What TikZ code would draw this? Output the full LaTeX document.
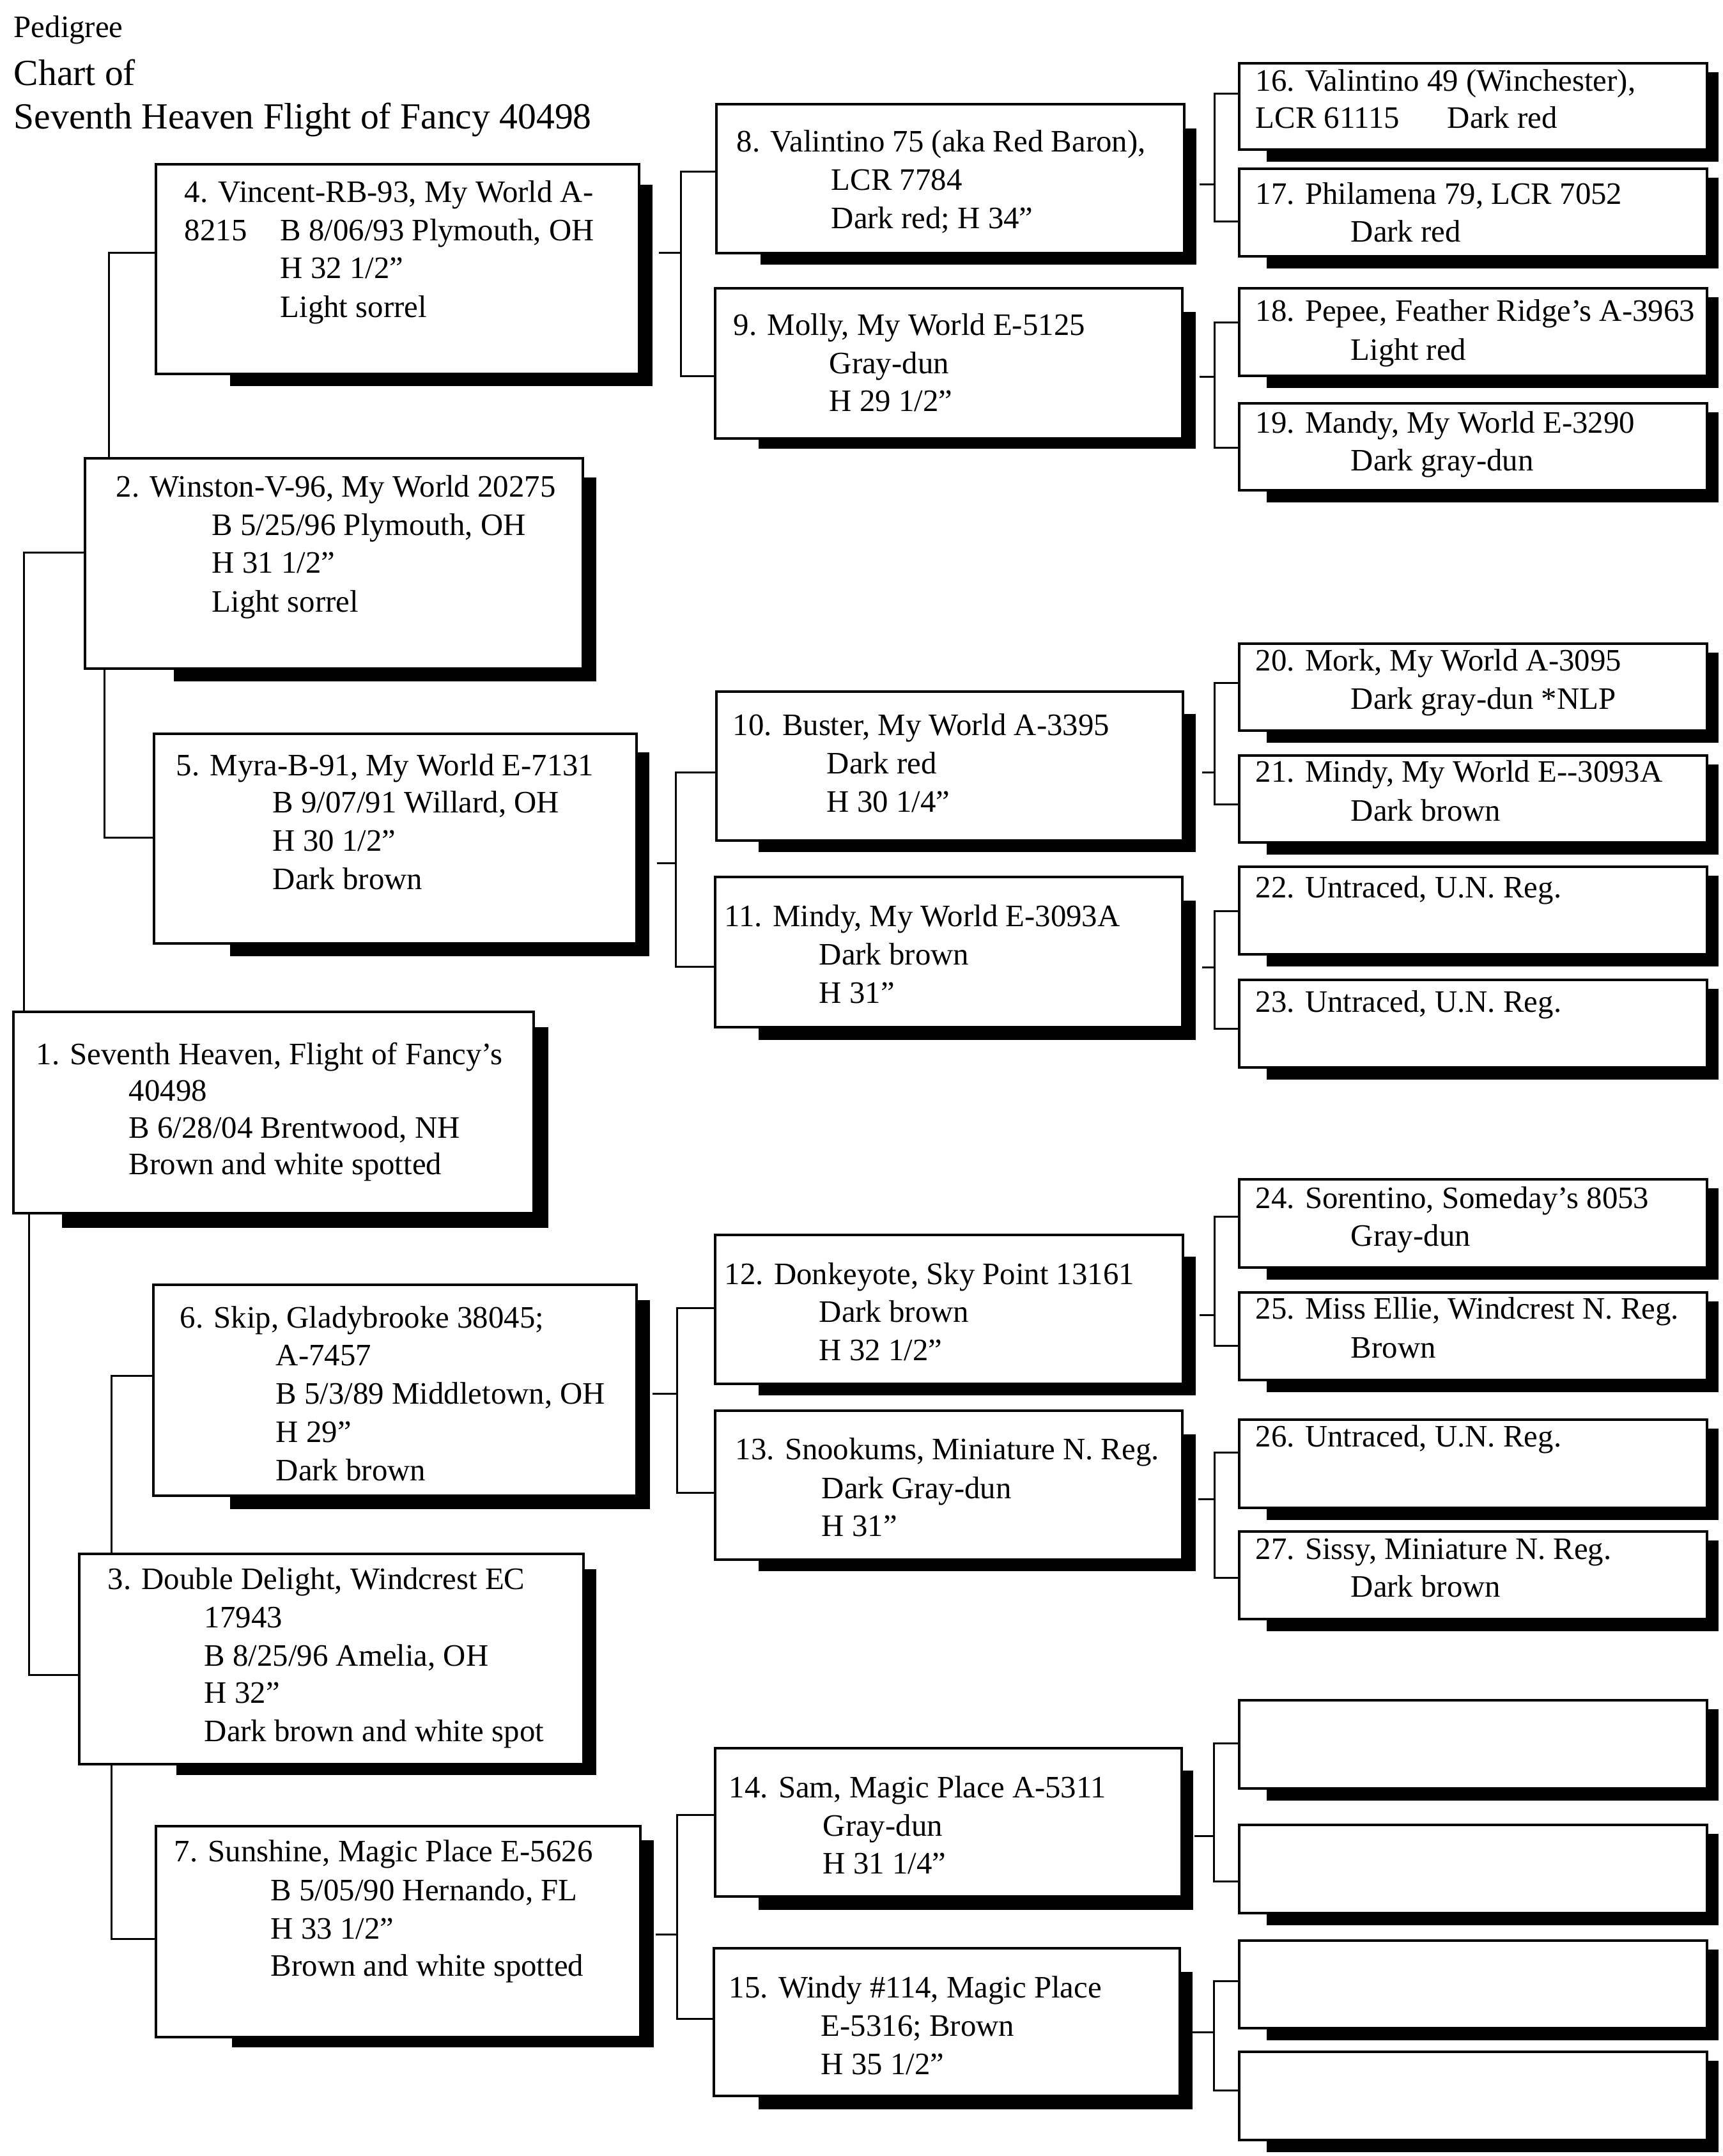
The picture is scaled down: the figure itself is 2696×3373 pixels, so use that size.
\documentclass[tikz,border=0pt]{standalone}
\usepackage{fontspec}
\setmainfont{Liberation Serif}
\newcommand\pedbox[9]{%
  \fill[black] (#6,#7) rectangle (#8,#9);
  \node[pbox, minimum width={(#4-#2)*0.25pt}, minimum height={(#5-#3)*0.25pt}] (#1) at ({(#2+#4)/2},{(#3+#5)/2}) {};
}
\newcommand\cbox[3]{\pedbox{#1}{1939}{#2}{2671}{#3}{1982}{#2+14}{2689}{#3+19}}
\newcommand\tx[4]{\node[txt] (#1) at (#2,#3) {#4};}
\begin{document}
\begin{tikzpicture}[x=0.25pt,y=-0.25pt,
  pbox/.style={draw, fill=white, line width=0.9pt, inner sep=0pt, outer sep=0pt},
  conn/.style={line width=0.75pt},
  txt/.style={anchor=base west, inner sep=0pt, font=\fontsize{12.2pt}{14pt}\selectfont},
  ttl/.style={anchor=base west, inner sep=0pt, font=\fontsize{14.4pt}{16pt}\selectfont}]
\fill[white] (0,0) rectangle (2696,3373);
\useasboundingbox (0,0) rectangle (2696,3373);

% title
\tx{ta}{21}{58}{Pedigree}
\node[ttl] (tb) at (21,133) {Chart of};
\node[ttl] (tc) at (21,201) {Seventh Heaven Flight of Fancy 40498};

% connectors
\draw[conn] (133,864) -- (37,864) -- (37,1583);
\draw[conn] (45,1898) -- (45,2620) -- (124,2620);
\draw[conn] (244,395) -- (170,395) -- (170,717);
\draw[conn] (163,1046) -- (163,1310) -- (241,1310);
\draw[conn] (240,2152) -- (174,2152) -- (174,2431);
\draw[conn] (174,2760) -- (174,3033) -- (244,3033);
\draw[conn] (1031,395) -- (1065,395);
\draw[conn] (1121,268) -- (1065,268) -- (1065,588) -- (1119,588);
\draw[conn] (1028,1350) -- (1057,1350);
\draw[conn] (1121,1208) -- (1057,1208) -- (1057,1512) -- (1119,1512);
\draw[conn] (1021,2180) -- (1059,2180);
\draw[conn] (1119,2046) -- (1059,2046) -- (1059,2335) -- (1119,2335);
\draw[conn] (1026,3026) -- (1059,3026);
\draw[conn] (1119,2839) -- (1059,2839) -- (1059,3158) -- (1117,3158);
\draw[conn] (1877,288) -- (1900,288);
\draw[conn] (1939,146) -- (1900,146) -- (1900,346) -- (1939,346);
\draw[conn] (1877,589) -- (1900,589);
\draw[conn] (1939,504) -- (1900,504) -- (1900,700) -- (1939,700);
\draw[conn] (1881,1208) -- (1900,1208);
\draw[conn] (1939,1068) -- (1900,1068) -- (1900,1258) -- (1939,1258);
\draw[conn] (1881,1513) -- (1900,1513);
\draw[conn] (1939,1425) -- (1900,1425) -- (1900,1609) -- (1939,1609);
\draw[conn] (1877,2057) -- (1900,2057);
\draw[conn] (1939,1903) -- (1900,1903) -- (1900,2105) -- (1939,2105);
\draw[conn] (1875,2345) -- (1900,2345);
\draw[conn] (1939,2272) -- (1900,2272) -- (1900,2468) -- (1939,2468);
\draw[conn] (1869,2872) -- (1899,2872);
\draw[conn] (1939,2727) -- (1899,2727) -- (1899,2943) -- (1939,2943);
\draw[conn] (1866,3179) -- (1899,3179);
\draw[conn] (1939,3099) -- (1899,3099) -- (1899,3270) -- (1939,3270);

% boxes
\pedbox{b1}{21}{1583}{835}{1898}{97}{1607}{858}{1921}
\pedbox{b2}{133}{717}{912}{1046}{272}{747}{933}{1066}
\pedbox{b3}{124}{2431}{913}{2760}{276}{2455}{933}{2777}
\pedbox{b4}{244}{257}{1000}{585}{360}{289}{1021}{604}
\pedbox{b5}{241}{1148}{996}{1476}{360}{1177}{1016}{1496}
\pedbox{b6}{240}{2010}{996}{2340}{360}{2034}{1017}{2361}
\pedbox{b7}{244}{2857}{1002}{3187}{363}{2879}{1023}{3203}
\pedbox{b8}{1121}{163}{1853}{396}{1190}{201}{1872}{414}
\pedbox{b9}{1119}{451}{1850}{686}{1187}{488}{1871}{702}
\pedbox{b10}{1121}{1082}{1851}{1315}{1187}{1117}{1871}{1333}
\pedbox{b11}{1119}{1372}{1850}{1607}{1187}{1409}{1871}{1627}
\pedbox{b12}{1119}{1932}{1851}{2165}{1187}{1966}{1871}{2183}
\pedbox{b13}{1119}{2207}{1850}{2440}{1187}{2244}{1871}{2458}
\pedbox{b14}{1119}{2735}{1849}{2967}{1187}{2770}{1867}{2988}
\pedbox{b15}{1117}{3048}{1846}{3279}{1187}{3085}{1866}{3300}
\cbox{b16}{99}{234}
\cbox{b17}{264}{401}
\cbox{b18}{451}{588}
\cbox{b19}{631}{767}
\cbox{b20}{1007}{1143}
\cbox{b21}{1182}{1318}
\cbox{b22}{1356}{1493}
\cbox{b23}{1533}{1670}
\cbox{b24}{1845}{1983}
\cbox{b25}{2022}{2159}
\cbox{b26}{2221}{2359}
\cbox{b27}{2396}{2533}
\cbox{b28}{2660}{2798}
\cbox{b29}{2855}{2993}
\cbox{b30}{3036}{3173}
\cbox{b31}{3210}{3348}

% texts
\tx{t1a}{56}{1665}{1. Seventh Heaven, Flight of Fancy’s}
\tx{t1b}{201}{1722}{40498}
\tx{t1c}{201}{1780}{B 6/28/04 Brentwood, NH}
\tx{t1d}{201}{1837}{Brown and white spotted}

\tx{t2a}{181}{777}{2. Winston-V-96, My World 20275}
\tx{t2b}{331}{837}{B 5/25/96 Plymouth, OH}
\tx{t2c}{331}{896}{H 31 1/2”}
\tx{t2d}{331}{957}{Light sorrel}

\tx{t3a}{168}{2486}{3. Double Delight, Windcrest EC}
\tx{t3b}{319}{2546}{17943}
\tx{t3c}{319}{2606}{B 8/25/96 Amelia, OH}
\tx{t3d}{319}{2664}{H 32”}
\tx{t3e}{319}{2724}{Dark brown and white spot}

\tx{t4a}{288}{316}{4. Vincent-RB-93, My World A-}
\tx{t4b}{288}{376}{8215}
\tx{t4c}{438}{376}{B 8/06/93 Plymouth, OH}
\tx{t4d}{438}{435}{H 32 1/2”}
\tx{t4e}{438}{496}{Light sorrel}

\tx{t5a}{275}{1213}{5. Myra-B-91, My World E-7131}
\tx{t5b}{426}{1271}{B 9/07/91 Willard, OH}
\tx{t5c}{426}{1331}{H 30 1/2”}
\tx{t5d}{426}{1391}{Dark brown}

\tx{t6a}{281}{2077}{6. Skip, Gladybrooke 38045;}
\tx{t6b}{431}{2136}{A-7457}
\tx{t6c}{431}{2196}{B 5/3/89 Middletown, OH}
\tx{t6d}{431}{2256}{H 29”}
\tx{t6e}{431}{2316}{Dark brown}

\tx{t7a}{272}{2912}{7. Sunshine, Magic Place E-5626}
\tx{t7b}{423}{2973}{B 5/05/90 Hernando, FL}
\tx{t7c}{423}{3033}{H 33 1/2”}
\tx{t7d}{423}{3091}{Brown and white spotted}

\tx{t8a}{1152}{237}{8. Valintino 75 (aka Red Baron),}
\tx{t8b}{1300}{297}{LCR 7784}
\tx{t8c}{1300}{357}{Dark red; H 34”}

\tx{t9a}{1147}{524}{9. Molly, My World E-5125}
\tx{t9b}{1297}{584}{Gray-dun}
\tx{t9c}{1297}{643}{H 29 1/2”}

\tx{t10a}{1146}{1150}{10. Buster, My World A-3395}
\tx{t10b}{1293}{1210}{Dark red}
\tx{t10c}{1293}{1270}{H 30 1/4”}

\tx{t11a}{1133}{1449}{11. Mindy, My World E-3093A}
\tx{t11b}{1281}{1509}{Dark brown}
\tx{t11c}{1281}{1569}{H 31”}

\tx{t12a}{1133}{2009}{12. Donkeyote, Sky Point 13161}
\tx{t12b}{1281}{2068}{Dark brown}
\tx{t12c}{1281}{2128}{H 32 1/2”}

\tx{t13a}{1150}{2283}{13. Snookums, Miniature N. Reg.}
\tx{t13b}{1285}{2344}{Dark Gray-dun}
\tx{t13c}{1285}{2403}{H 31”}

\tx{t14a}{1140}{2812}{14. Sam, Magic Place A-5311}
\tx{t14b}{1287}{2872}{Gray-dun}
\tx{t14c}{1287}{2931}{H 31 1/4”}

\tx{t15a}{1140}{3125}{15. Windy \#114, Magic Place}
\tx{t15b}{1284}{3185}{E-5316; Brown}
\tx{t15c}{1284}{3245}{H 35 1/2”}

\tx{t16a}{1964}{142}{16. Valintino 49 (Winchester),}
\tx{t16b}{1964}{200}{LCR 61115}
\tx{t16c}{2264}{200}{Dark red}
\tx{t17a}{1964}{319}{17. Philamena 79, LCR 7052}
\tx{t17b}{2113}{378}{Dark red}
\tx{t18a}{1964}{502}{18. Pepee, Feather Ridge’s A-3963}
\tx{t18b}{2113}{563}{Light red}
\tx{t19a}{1964}{677}{19. Mandy, My World E-3290}
\tx{t19b}{2113}{736}{Dark gray-dun}
\tx{t20a}{1964}{1049}{20. Mork, My World A-3095}
\tx{t20b}{2113}{1109}{Dark gray-dun *NLP}
\tx{t21a}{1964}{1223}{21. Mindy, My World E-{}-3093A}
\tx{t21b}{2113}{1284}{Dark brown}
\tx{t22a}{1964}{1404}{22. Untraced, U.N. Reg.}
\tx{t23a}{1964}{1583}{23. Untraced, U.N. Reg.}
\tx{t24a}{1964}{1890}{24. Sorentino, Someday’s 8053}
\tx{t24b}{2113}{1949}{Gray-dun}
\tx{t25a}{1964}{2063}{25. Miss Ellie, Windcrest N. Reg.}
\tx{t25b}{2113}{2124}{Brown}
\tx{t26a}{1964}{2263}{26. Untraced, U.N. Reg.}
\tx{t27a}{1964}{2439}{27. Sissy, Miniature N. Reg.}
\tx{t27b}{2113}{2498}{Dark brown}
\end{tikzpicture}
\end{document}
